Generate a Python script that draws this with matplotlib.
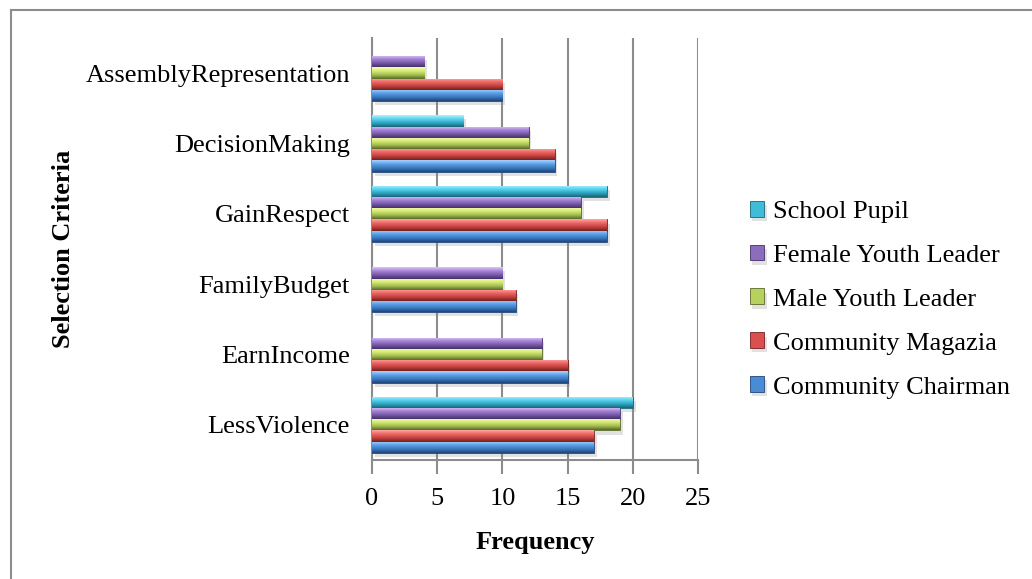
import numpy as np
import matplotlib
matplotlib.use("Agg")
import matplotlib.pyplot as plt
from matplotlib.colors import LinearSegmentedColormap
from matplotlib.lines import Line2D
import matplotlib.patheffects as pe

plt.rcParams["font.family"] = ["Liberation Serif", "DejaVu Serif"]

criteria = ["LessViolence", "EarnIncome", "FamilyBudget",
            "GainRespect", "DecisionMaking", "AssemblyRepresentation"]

groups = ["Community Chairman", "Community Magazia", "Male Youth Leader",
          "Female Youth Leader", "School Pupil"]

chairman = [17, 15, 11, 18, 14, 10]
magazia = [17, 15, 11, 18, 14, 10]
male_leader = [19, 13, 10, 16, 12, 4]
female_leader = [19, 13, 10, 16, 12, 4]
pupil = [20, 0, 0, 18, 7, 0]

series = [chairman, magazia, male_leader, female_leader, pupil]

# dark bottom -> light top shades for the bevelled bar look
shades = [
    ["#1f4578", "#3a78bf", "#5c9fe6", "#a9d5ff"],
    ["#74201f", "#c2403e", "#ec6664", "#ffa6a4"],
    ["#57692a", "#a3bd4d", "#d5ea77", "#f6ffb0"],
    ["#45306a", "#7657a5", "#a483d6", "#dcc4f7"],
    ["#1a6478", "#2fa3bf", "#58d3ee", "#adf3ff"],
]
mids = ["#4a8bd6", "#d9504e", "#b8d15c", "#8c6cbc", "#40bcd8"]

fs = 19

fig = plt.figure(figsize=(10.32, 5.79), dpi=100)
ax = fig.add_axes([0.3605, 0.2055, 0.316, 0.729])

y = np.arange(len(criteria))
h = 0.16
grad = np.linspace(0, 1, 64).reshape(-1, 1)

for i, (vals, name) in enumerate(zip(series, groups)):
    bars = ax.barh(y + (i - 2) * h, vals, height=h, color=mids[i],
                   edgecolor=shades[i][0], linewidth=0.6, label=name,
                   zorder=3)
    cmap = LinearSegmentedColormap.from_list(name, shades[i])
    for b in bars:
        if b.get_width() <= 0:
            b.set_visible(False)
            continue
        b.set_path_effects([pe.SimplePatchShadow(offset=(2, -3),
                                                 shadow_rgbFace="#888888",
                                                 alpha=0.25),
                            pe.Normal()])
        x0, y0 = b.get_x(), b.get_y()
        im = ax.imshow(grad, cmap=cmap, aspect="auto", origin="lower",
                       extent=(x0, x0 + b.get_width(), y0, y0 + b.get_height()),
                       zorder=3.5, interpolation="bilinear")
        im.set_clip_path(b)

ax.set_xlim(0, 25)
ax.set_ylim(-0.5, len(criteria) - 0.5)
ax.set_xticks(range(0, 26, 5))
ax.set_yticks(y)
ax.set_yticklabels(criteria)

grey = "#8c8c8c"
ax.grid(axis="x", color=grey, linewidth=1.5, zorder=0)
ax.set_axisbelow(True)
for s in ["top", "right"]:
    ax.spines[s].set_visible(False)
for s in ["left", "bottom"]:
    ax.spines[s].set_color(grey)
    ax.spines[s].set_linewidth(1.5)
ax.tick_params(axis="x", direction="out", length=10, width=1.5, color=grey,
               labelsize=fs, pad=10)
ax.tick_params(axis="y", length=0, labelsize=fs, pad=16)

ax.set_xlabel("Frequency", fontsize=fs, fontweight="bold", labelpad=15)
ax.set_ylabel("Selection Criteria", fontsize=fs, fontweight="bold")
ax.yaxis.set_label_coords(-0.91, 0.5)

handles, labels = ax.get_legend_handles_labels()
ax.legend(handles[::-1], labels[::-1], loc="center left",
          bbox_to_anchor=(1.085, 0.38), frameon=False, fontsize=fs,
          handlelength=0.55, handleheight=0.55, handletextpad=0.35,
          labelspacing=0.82)

# chart outline along the left and top
fig.add_artist(Line2D([10.5 / 1032, 10.5 / 1032], [0, 1 - 9.5 / 579],
                      transform=fig.transFigure, color=grey, linewidth=1.5))
fig.add_artist(Line2D([10.5 / 1032, 1], [1 - 9.5 / 579, 1 - 9.5 / 579],
                      transform=fig.transFigure, color=grey, linewidth=1.5))

fig.savefig("out.png", dpi=100)
